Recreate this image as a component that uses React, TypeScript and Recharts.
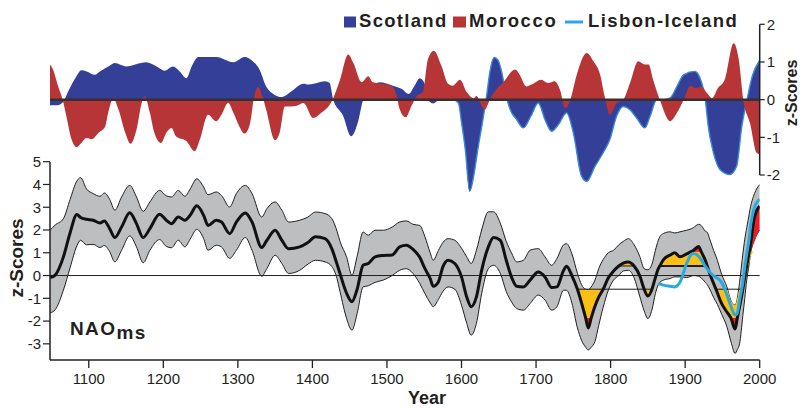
import React from 'react';
import { ComposedChart, Area, Line, XAxis, YAxis, ReferenceLine } from 'recharts';

const FONT = '"Liberation Sans", Arial, Helvetica, sans-serif';
const INK = '#231f20';
const C_SCOT = '#343f98';
const C_SCOT_EDGE = '#3b8bd6';
const C_MOR = '#b73437';
const C_LIS = '#29a9e0';
const C_BAND = '#bcbec0';
const C_YEL = '#fdbe16';
const C_RED = '#ed1c24';

const X_DOMAIN = [1048, 2000];
const YEAR_TICKS = [1100, 1200, 1300, 1400, 1500, 1600, 1700, 1800, 1900, 2000];
const NAO_DOMAIN = [-3.71, 5];
const NAO_TICKS = [-3, -2, -1, 0, 1, 2, 3, 4, 5];
const TOP_DOMAIN = [-2.5, 2];
const TOP_TICKS = [-2, -1, 0, 1, 2];

// ---- Bottom panel: NAOms reconstruction ----
const BOTTOM_YEARS = [
  1048, 1055, 1066, 1075, 1084, 1089, 1097, 1106, 1115, 1121,
  1128, 1135, 1144, 1155, 1164, 1173, 1182, 1195, 1204, 1211,
  1220, 1229, 1236, 1245, 1254, 1260, 1271, 1278, 1289, 1298,
  1310, 1319, 1332, 1339, 1350, 1359, 1368, 1383, 1394, 1404,
  1417, 1426, 1433, 1437, 1446, 1453, 1460, 1468, 1475, 1484,
  1495, 1507, 1517, 1526, 1535, 1544, 1551, 1558, 1562, 1569,
  1575, 1582, 1591, 1600, 1607, 1613, 1620, 1627, 1636, 1643,
  1652, 1660, 1667, 1674, 1683, 1692, 1703, 1712, 1721, 1728,
  1737, 1741, 1748, 1755.5, 1761, 1766.5, 1770, 1774, 1779, 1784,
  1790, 1797, 1804, 1811, 1817, 1824, 1831.5, 1839, 1845, 1850,
  1855.5, 1860, 1864, 1866, 1871, 1880, 1886, 1893, 1902, 1908,
  1911, 1918, 1921.5, 1927, 1929.6, 1933, 1940, 1941.3, 1949, 1956,
  1961.4, 1967, 1970, 1973, 1977.4, 1980, 1982.6, 1985.9, 1987, 1993,
  2000,
];
const NAO_MEAN = [
  -0.09, 0.02, 0.82, 1.88, 2.68, 2.55, 2.47, 2.43, 2.31, 2.4,
  2.06, 1.67, 2.13, 2.76, 2.28, 1.67, 2.06, 2.69, 2.43, 2.28,
  2.57, 2.43, 2.65, 3.06, 2.65, 2.2, 2.43, 2.35, 1.84, 2.35,
  2.75, 2.35, 1.23, 1.55, 1.99, 1.55, 1.18, 1.26, 1.45, 1.7,
  1.62, 1.18, 0.5, 0.09, -0.79, -1.15, -0.6, 0.45, 0.53, 0.82,
  0.88, 0.9, 1.26, 1.33, 1.15, 0.8, 0.3, -0.13, -0.47, -0.28,
  0.38, 0.67, 0.53, -0.06, -0.94, -1.37, -0.94, 0.23, 1.26, 1.67,
  1.55, 0.67, -0.06, -0.47, -0.5, -0.2, 0.16, -0.06, -0.53, -0.5,
  0.23, 0.41, 0.0, -0.6, -1.2, -1.86, -2.3, -1.86, -1.35, -0.95,
  -0.6, -0.1, 0.2, 0.42, 0.55, 0.6, 0.42, 0.0, -0.6, -0.9,
  -0.6, -0.1, 0.3, 0.42, 0.7, 0.9, 1.0, 0.82, 0.95, 1.05,
  1.1, 1.28, 1.05, 0.67, 0.42, 0.09, -0.5, -0.6, -1.23, -1.6,
  -1.86, -2.35, -1.86, -1.38, -0.6, -0.06, 0.42, 1.05, 1.25, 2.57,
  3.05,
];
const NAO_UPPER = [
  1.99, 2.22, 2.5, 3.35, 4.15, 4.3, 3.8, 3.6, 3.48, 3.63,
  3.35, 2.87, 3.45, 3.96, 3.45, 2.82, 3.23, 3.74, 3.5, 3.45,
  3.74, 3.48, 3.8, 4.25, 3.89, 3.55, 3.67, 3.52, 3.01, 3.6,
  3.96, 3.6, 2.57, 2.94, 3.23, 2.87, 2.35, 2.43, 2.57, 2.79,
  2.72, 2.5, 1.95, 1.5, 0.8, 0.01, 0.85, 1.91, 1.77, 1.99,
  1.99, 2.13, 2.35, 2.4, 2.25, 2.2, 1.7, 1.0, 0.67, 1.1,
  1.45, 1.62, 1.55, 1.2, 0.82, 0.53, 1.11, 2.0, 2.8, 2.8,
  2.3, 1.5, 1.0, 0.6, 0.67, 1.11, 1.18, 0.82, 0.45, 0.75,
  1.35, 1.4, 0.96, 0.1, -0.4, -0.6, -0.62, -0.5, -0.2, 0.3,
  0.7, 1.0, 1.11, 1.35, 1.5, 1.62, 1.35, 0.85, 0.3, 0.25,
  0.5, 1.1, 1.55, 1.7, 1.85, 1.92, 1.87, 1.92, 1.99, 2.05,
  2.1, 2.25, 2.2, 1.95, 1.9, 1.6, 0.95, 0.85, 0.05, -0.5,
  -1.1, -1.3, -1.0, -0.3, 0.95, 1.6, 2.1, 2.7, 2.9, 3.6,
  4.0,
];
const NAO_LOWER = [
  -1.64, -1.5, -0.64, 0.35, 1.3, 1.55, 1.35, 1.37, 1.23, 1.32,
  1.05, 0.6, 1.11, 1.74, 1.26, 0.56, 1.11, 1.58, 1.28, 1.22,
  1.55, 1.26, 1.6, 2.03, 1.63, 1.11, 1.33, 1.26, 0.75, 1.11,
  1.67, 1.11, -0.03, 0.31, 0.89, 0.53, 0.09, 0.23, 0.5, 0.67,
  0.6, 0.4, -0.13, -0.7, -1.9, -2.4, -1.67, -0.5, -0.45, -0.3,
  -0.2, 0.0, 0.23, 0.3, 0.09, -0.35, -0.8, -1.2, -1.37, -1.05,
  -0.7, -0.5, -0.6, -1.3, -2.1, -2.62, -2.1, -0.8, 0.3, 0.45,
  0.1, -0.7, -1.15, -1.45, -1.52, -1.23, -0.86, -1.08, -1.52, -1.37,
  -0.64, -0.65, -1.2, -2.3, -2.84, -3.15, -3.27, -3.15, -2.9, -2.2,
  -1.4, -0.64, -0.2, 0.0, 0.2, 0.23, -0.1, -0.9, -1.55, -1.89,
  -1.5, -0.8, -0.4, -0.3, -0.2, -0.13, -0.06, -0.06, -0.09, -0.03,
  0.0, -0.03, -0.1, -0.3, -0.4, -0.6, -1.08, -1.15, -1.7, -2.25,
  -2.9, -3.42, -3.25, -3.0, -1.75, -1.0, -0.2, 0.5, 0.8, 1.55,
  2.0,
];

// Lisbon-Iceland instrumental index
const LISBON_YEARS = [
  1864, 1866, 1871, 1880, 1886, 1893, 1902, 1908, 1911, 1918,
  1921.5, 1927, 1929.6, 1933, 1940, 1941.3, 1949, 1956, 1961.4, 1967,
  1970, 1973, 1977.4, 1980, 1982.6, 1985.9, 1987, 1993, 2000,
];
const LISBON_VALUES = [
  -0.35, -0.37, -0.42, -0.47, -0.5, -0.3, 0.53, 0.92, 0.97, 0.85,
  0.7, 0.4, 0.3, 0.15, -0.05, -0.08, -0.3, -0.85, -1.35, -1.73,
  -1.65, -1.08, -0.3, 0.38, 0.95, 1.65, 1.99, 3.0, 3.35,
];

// Persistent-phase shading thresholds (from 1750 on)
const FILL_START = 1750;
const NEG_YELLOW = -0.6;
const NEG_RED = -1.86;
const POS_YELLOW = 0.42;
const POS_RED = 1.05;
const THRESHOLD_SEGMENTS = [
  { from: 1755.5, to: 1855.5, y: NEG_YELLOW, width: 1 },
  { from: 1941.3, to: 1977.4, y: NEG_YELLOW, width: 1 },
  { from: 1811, to: 1831.5, y: POS_YELLOW, width: 1 },
  { from: 1866, to: 1929.6, y: POS_YELLOW, width: 2 },
];

// ---- Top panel: Scotland speleothem and Morocco drought ----
const SCOT_YEARS = [
  1048, 1058, 1066, 1072, 1083.5, 1090, 1097, 1108, 1115, 1128,
  1135, 1150, 1177, 1191, 1202, 1213, 1222, 1231, 1238, 1247,
  1271, 1294, 1309, 1320, 1329, 1338, 1347, 1359, 1372, 1388,
  1395, 1417, 1423, 1428, 1441, 1452, 1461, 1468, 1478, 1490,
  1508, 1520, 1529, 1537, 1544, 1551, 1557, 1562, 1570, 1590,
  1596, 1600, 1605, 1611, 1617, 1622, 1629, 1634, 1638, 1644,
  1649, 1654, 1660, 1665, 1674, 1683, 1693, 1703, 1712, 1721,
  1730, 1741, 1750, 1761, 1768, 1779, 1790, 1799, 1808, 1817,
  1826, 1835, 1846, 1853, 1862, 1871, 1880, 1889, 1898, 1913,
  1920, 1927, 1931, 1938, 1947, 1960, 1969, 1976, 1983, 1990,
  2000,
];
const SCOT_VALUES = [
  -0.15, -0.15, -0.05, 0.2, 0.62, 0.78, 0.75, 0.66, 0.75, 0.9,
  0.97, 0.88, 0.99, 0.88, 0.77, 0.88, 0.75, 0.57, 0.88, 1.13,
  1.13, 0.99, 1.13, 1.02, 0.8, 0.35, 0.16, 0.07, 0.22, 0.42,
  0.4, 0.49, 0.45, 0.0, -0.42, -0.97, -0.6, 0.0, 0.3, 0.46,
  0.37, 0.28, 0.15, 0.37, 0.57, 0.4, -0.05, -0.1, 0.0, 0.0,
  -0.1, -0.6, -1.31, -2.43, -1.95, -1.3, -0.5, 0.15, 0.73, 1.12,
  1.05, 0.73, 0.1, -0.25, -0.53, -0.75, -0.44, -0.09, -0.53, -0.84,
  -0.66, -0.35, -0.88, -2.03, -2.17, -1.77, -1.41, -1.06, -0.44, -0.18,
  -0.27, -0.49, -0.75, -0.44, 0.0, 0.0, 0.05, 0.35, 0.66, 0.75,
  0.57, 0.0, -0.71, -1.41, -1.86, -1.99, -1.77, -0.71, 0.0, 0.62,
  1.05,
];
const SCOT_EDGE_START = 1590;
const MOR_YEARS = [
  1048, 1052, 1059, 1065, 1070, 1077, 1083.5, 1090, 1097, 1104,
  1113, 1122, 1126, 1133, 1140, 1149, 1156, 1164, 1171, 1175,
  1182, 1188, 1197, 1204, 1211, 1217, 1231, 1242, 1249, 1260,
  1271, 1278, 1287, 1294, 1302, 1309, 1316, 1322, 1327, 1333,
  1338, 1350, 1356, 1363, 1370, 1379, 1388, 1401, 1412, 1426,
  1437, 1448, 1455, 1466, 1475, 1481, 1495, 1506, 1513, 1517,
  1525, 1533, 1540, 1548, 1555, 1563, 1573, 1582, 1588, 1598,
  1607, 1616, 1620, 1631, 1638, 1647, 1656, 1672, 1678, 1687,
  1694, 1707, 1716, 1725, 1732, 1739, 1746, 1754, 1768, 1777,
  1786, 1792, 1799, 1808, 1817, 1826, 1837, 1846, 1851, 1857,
  1866, 1880, 1889, 1898, 1907, 1915, 1922, 1929, 1936, 1944,
  1953, 1965, 1972, 1978, 1987, 1996, 2000,
];
const MOR_VALUES = [
  0.93, 0.8, 0.35, 0.0, -0.44, -1.06, -1.26, -1.15, -1.02, -1.05,
  -0.88, -0.71, -0.35, 0.04, -0.27, -0.88, -1.17, -0.8, -0.09, 0.09,
  -0.35, -0.88, -1.15, -0.88, -0.75, -0.97, -1.1, -1.37, -1.06, -0.4,
  -0.57, -0.4, -0.09, -0.35, -0.71, -0.9, -0.66, 0.09, 0.34, 0.09,
  -0.27, -1.08, -0.88, -0.18, -0.18, -0.16, -0.09, -0.49, -0.35, -0.04,
  0.53, 1.2, 0.97, 0.46, 0.62, 0.46, 0.42, 0.37, 0.11, -0.25,
  -0.47, -0.16, 0.1, 0.2, 1.08, 1.3, 0.9, 0.42, 0.37, 0.53,
  0.2, 0.04, 0.1, -0.27, 0.0, 0.28, 0.46, 0.8, 0.66, 0.35,
  0.4, 0.53, 0.44, 0.49, 0.27, -0.22, 0.0, 0.62, 1.24, 1.02,
  0.66, 0.09, -0.4, -0.09, 0.0, 0.44, 1.02, 0.93, 0.93, 0.53,
  0.0, -0.57, -0.35, 0.0, 0.37, 0.31, 0.34, 0.18, 0.04, 0.31,
  0.53, 1.5, 1.06, 0.0, -0.62, -1.41, -1.45,
];

function range(lo: number, hi: number): [number, number] {
  return lo <= hi ? [lo, hi] : [hi, hi];
}

function buildBottomRows() {
  const lis = new Map<number, number>();
  LISBON_YEARS.forEach((y, i) => lis.set(y, LISBON_VALUES[i]));
  return BOTTOM_YEARS.map((year, i) => {
    const m = NAO_MEAN[i];
    const u = NAO_UPPER[i];
    const l = NAO_LOWER[i];
    const row: any = { year, mean: m, band: [l, u] };
    if (lis.has(year)) row.lisbon = lis.get(year);
    if (year >= FILL_START) {
      row.negY = m <= NEG_YELLOW ? range(Math.max(m, NEG_RED), Math.min(NEG_YELLOW, u)) : null;
      row.negR = m <= NEG_RED ? range(m, NEG_RED) : null;
      row.posY = m >= POS_YELLOW ? range(Math.max(POS_YELLOW, l), Math.min(m, POS_RED)) : null;
      row.posR = m >= POS_RED ? range(Math.max(POS_RED, l), m) : null;
    } else {
      row.negY = null;
      row.negR = null;
      row.posY = null;
      row.posR = null;
    }
    return row;
  });
}

function buildTopRows() {
  const map = new Map<number, any>();
  const get = (y: number) => {
    if (!map.has(y)) map.set(y, { year: y });
    return map.get(y);
  };
  SCOT_YEARS.forEach((y, i) => {
    const r = get(y);
    r.scot = SCOT_VALUES[i];
    if (y >= SCOT_EDGE_START) r.scotEdge = SCOT_VALUES[i];
  });
  MOR_YEARS.forEach((y, i) => {
    get(y).mor = MOR_VALUES[i];
  });
  return Array.from(map.values()).sort((a, b) => a.year - b.year);
}

const tickStyle = { fill: INK, fontSize: 15, fontFamily: FONT };

export default function App() {
  const bottomRows = buildBottomRows();
  const topRows = buildTopRows();
  const boldText = { fontFamily: FONT, fontWeight: 700, fill: INK } as const;

  return (
    <div
      style={{
        position: 'absolute',
        left: 0,
        top: 0,
        width: 801,
        height: 409,
        background: '#ffffff',
        overflow: 'hidden',
        fontFamily: FONT,
      }}
    >
      <div style={{ position: 'absolute', left: 0, top: 0 }}>
        <ComposedChart
          width={801}
          height={409}
          data={bottomRows}
          margin={{ top: 161.7, right: 41.3, bottom: 19, left: 0 }}
        >
          <XAxis
            type="number"
            dataKey="year"
            domain={X_DOMAIN}
            ticks={YEAR_TICKS}
            interval={0}
            allowDataOverflow
            height={30}
            tickSize={8}
            tickMargin={5}
            axisLine={{ stroke: INK, strokeWidth: 1.6 }}
            tickLine={{ stroke: INK, strokeWidth: 1.3 }}
            tick={tickStyle}
          />
          <YAxis
            type="number"
            domain={NAO_DOMAIN}
            ticks={NAO_TICKS}
            interval={0}
            allowDataOverflow
            width={50}
            tickSize={7}
            tickMargin={2}
            axisLine={{ stroke: INK, strokeWidth: 1.5 }}
            tickLine={{ stroke: INK, strokeWidth: 1.2 }}
            tick={tickStyle}
          />
          <Area
            type="monotone"
            dataKey="band"
            fill={C_BAND}
            fillOpacity={1}
            stroke={INK}
            strokeWidth={1}
            dot={false}
            activeDot={false}
            isAnimationActive={false}
          />
          <Area type="monotone" dataKey="negY" fill={C_YEL} fillOpacity={1} stroke="none" dot={false} activeDot={false} isAnimationActive={false} />
          <Area type="monotone" dataKey="posY" fill={C_YEL} fillOpacity={1} stroke="none" dot={false} activeDot={false} isAnimationActive={false} />
          <Area type="monotone" dataKey="negR" fill={C_RED} fillOpacity={1} stroke="none" dot={false} activeDot={false} isAnimationActive={false} />
          <Area type="monotone" dataKey="posR" fill={C_RED} fillOpacity={1} stroke="none" dot={false} activeDot={false} isAnimationActive={false} />
          {THRESHOLD_SEGMENTS.map((s, i) => (
            <ReferenceLine
              key={i}
              segment={[
                { x: s.from, y: s.y },
                { x: s.to, y: s.y },
              ]}
              stroke="#1a1a1a"
              strokeWidth={s.width}
            />
          ))}
          <ReferenceLine y={0} stroke={INK} strokeWidth={1} />
          <Line
            type="monotone"
            dataKey="mean"
            stroke="#111111"
            strokeWidth={3}
            dot={false}
            activeDot={false}
            isAnimationActive={false}
          />
          <Line
            type="monotone"
            dataKey="lisbon"
            stroke={C_LIS}
            strokeWidth={3}
            connectNulls
            dot={false}
            activeDot={false}
            isAnimationActive={false}
          />
        </ComposedChart>
      </div>

      <div style={{ position: 'absolute', left: 0, top: 0 }}>
        <ComposedChart
          width={801}
          height={409}
          data={topRows}
          margin={{ top: 24.3, right: 0, bottom: 215.15, left: 50 }}
        >
          <XAxis type="number" dataKey="year" domain={X_DOMAIN} allowDataOverflow hide />
          <YAxis
            orientation="right"
            type="number"
            domain={TOP_DOMAIN}
            ticks={TOP_TICKS}
            interval={0}
            allowDataOverflow
            width={41.3}
            tickSize={5}
            tickMargin={2}
            axisLine={false}
            tickLine={{ stroke: INK, strokeWidth: 1.2 }}
            tick={tickStyle}
          />
          <Area
            type="monotone"
            dataKey="scot"
            baseValue={0}
            fill={C_SCOT}
            fillOpacity={1}
            stroke="none"
            connectNulls
            dot={false}
            activeDot={false}
            isAnimationActive={false}
          />
          <Area
            type="monotone"
            dataKey="scotEdge"
            baseValue={0}
            fill={C_SCOT}
            fillOpacity={1}
            stroke={C_SCOT_EDGE}
            strokeWidth={1.4}
            connectNulls
            dot={false}
            activeDot={false}
            isAnimationActive={false}
          />
          <Area
            type="monotone"
            dataKey="mor"
            baseValue={0}
            fill={C_MOR}
            fillOpacity={1}
            stroke="none"
            connectNulls
            dot={false}
            activeDot={false}
            isAnimationActive={false}
          />
          <ReferenceLine y={0} stroke="#3a2e2e" strokeWidth={2.5} />
          <ReferenceLine
            segment={[
              { x: 2000, y: -2 },
              { x: 2000, y: 2 },
            ]}
            stroke={INK}
            strokeWidth={1.5}
          />
        </ComposedChart>
      </div>

      <svg
        width={801}
        height={409}
        style={{ position: 'absolute', left: 0, top: 0, pointerEvents: 'none' }}
      >
        <rect x={344} y={16.5} width={12} height={11} fill={C_SCOT} />
        <text x={359} y={27} fontSize={18.5} letterSpacing={1.3} {...boldText}>Scotland</text>
        <rect x={453} y={16.5} width={13} height={11} fill={C_MOR} />
        <text x={469} y={27} fontSize={18.5} letterSpacing={1.6} {...boldText}>Morocco</text>
        <line x1={565} y1={22} x2={583} y2={22} stroke={C_LIS} strokeWidth={3} />
        <text x={588} y={27} fontSize={18.5} letterSpacing={1.4} {...boldText}>Lisbon-Iceland</text>
        <text transform="translate(797,93) rotate(-90)" textAnchor="middle" fontSize={16} {...boldText}>z-Scores</text>
        <text transform="translate(23,258) rotate(-90)" textAnchor="middle" fontSize={19} {...boldText}>z-Scores</text>
        <text x={408} y={404} fontSize={18} {...boldText}>Year</text>
        <text x={70} y={335} fontSize={19} letterSpacing={1.4} {...boldText}>
          NAO<tspan dy={4}>ms</tspan>
        </text>
      </svg>
    </div>
  );
}
